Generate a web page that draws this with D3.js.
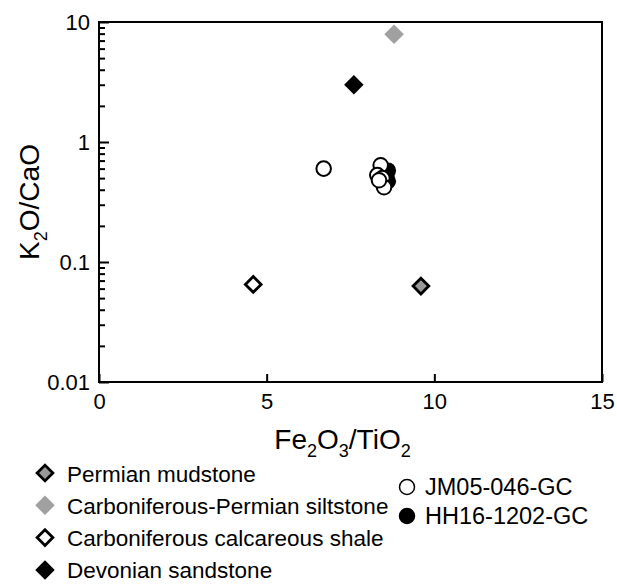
<!DOCTYPE html>
<html lang="en">
<head>
	<meta charset="UTF-8"/>
	<title>K2O/CaO vs Fe2O3/TiO2</title>
	<script src="https://d3js.org/d3.v7.min.js"></script>
	<style>
		body {
			margin: 0;
			background-color: white;
		}
		text {
			font-family: Arial, "Liberation Sans", sans-serif;
			fill: black;
		}
	</style>
</head>
<body>
<script>
	// data
	var jm05X = [6.7, 8.4, 8.3, 8.45, 8.5, 8.35];
	var jm05Y = [0.60, 0.64, 0.53, 0.50, 0.42, 0.48];
	var hh16X = [8.62, 8.62, 8.58];
	var hh16Y = [0.58, 0.47, 0.52];

	var rockNames = ["Permian mudstone", "Carboniferous-Permian siltstone",
		"Carboniferous calcareous shale", "Devonian sandstone"];
	var rockX = [9.6, 8.8, 4.6, 7.6];
	var rockY = [0.063, 7.9, 0.065, 3.0];
	var rockFill = ["#999999", "#a0a0a0", "white", "black"];
	var rockStroke = ["black", "none", "black", "none"];

	var xTicks = [0, 5, 10, 15];
	var yTicks = [0.01, 0.1, 1, 10];
	var coreNames = ["JM05-046-GC", "HH16-1202-GC"];
	var coreFill = ["white", "black"];

	var w = 617;
	var h = 585;
	// plot box (not called "top": that name is taken by window.top)
	var pLeft = 99, pTop = 22, pRight = 602, pBottom = 382;

	var svg = d3.select("body")
				.append("svg")
				.attr("width", w)
				.attr("height", h);

	var x = d3.scaleLinear().domain([0, 15]).range([pLeft, pRight]);
	var y = d3.scaleLog().domain([0.01, 10]).range([pBottom, pTop]);

	// minor ticks on log axis
	var minor = [];
	for (var d = 0.01; d < 9; d *= 10) {
		for (var k = 2; k <= 9; k++) {
			minor.push(d * k);
		}
	}

	var yMinor = d3.axisLeft(y).tickValues(minor).tickSize(-6).tickFormat("");
	var gm = svg.append("g").attr("transform", "translate(" + pLeft + ",0)").call(yMinor);
	gm.select(".domain").remove();
	gm.selectAll("line").attr("stroke", "black").attr("stroke-width", 2);

	var yMajor = d3.axisLeft(y).tickValues(yTicks).tickSize(-10).tickPadding(9)
		.tickFormat(function(d){ return d >= 1 ? d3.format("d")(d) : String(d); });
	var gy = svg.append("g").attr("transform", "translate(" + pLeft + ",0)").call(yMajor);
	gy.select(".domain").remove();
	gy.selectAll("line").attr("stroke", "black").attr("stroke-width", 2);
	gy.selectAll("text").attr("font-size", 22).attr("font-family", "Arial, 'Liberation Sans', sans-serif");

	var xAxis = d3.axisBottom(x).tickValues(xTicks).tickSize(-8).tickPadding(11);
	var gx = svg.append("g").attr("transform", "translate(0," + pBottom + ")").call(xAxis);
	gx.select(".domain").remove();
	gx.selectAll("line").attr("stroke", "black").attr("stroke-width", 2);
	gx.selectAll("text").attr("font-size", 22).attr("font-family", "Arial, 'Liberation Sans', sans-serif");

	// frame
	svg.append("rect")
		.attr("x", pLeft).attr("y", pTop)
		.attr("width", pRight - pLeft).attr("height", pBottom - pTop)
		.attr("fill", "none").attr("stroke", "black").attr("stroke-width", 2);

	// axis titles
	var xt = svg.append("text").attr("x", (pLeft + pRight) / 2 - 8).attr("y", 449)
		.attr("text-anchor", "middle").attr("font-size", 28);
	xt.append("tspan").text("Fe");
	xt.append("tspan").text("2").attr("font-size", 18).attr("dy", 8);
	xt.append("tspan").text("O").attr("dy", -8);
	xt.append("tspan").text("3").attr("font-size", 18).attr("dy", 8);
	xt.append("tspan").text("/TiO").attr("dy", -8);
	xt.append("tspan").text("2").attr("font-size", 18).attr("dy", 8);

	var yt = svg.append("text")
		.attr("transform", "translate(39," + ((pTop + pBottom) / 2) + ") rotate(-90)")
		.attr("text-anchor", "middle").attr("font-size", 28);
	yt.append("tspan").text("K");
	yt.append("tspan").text("2").attr("font-size", 18).attr("dy", 8);
	yt.append("tspan").text("O/CaO").attr("dy", -8);

	var diamond = d3.symbol().type(d3.symbolDiamond2);
	function rockSize(i) { return rockStroke[i] == "none" ? 242 : 158; }

	// rock samples
	svg.selectAll(".rock")
		.data(rockX)
		.enter()
		.append("path")
		.attr("class", "rock")
		.attr("d", function(d, i){ return diamond.size(rockSize(i))(); })
		.attr("transform", function(d, i){ return "translate(" + x(d) + "," + y(rockY[i]) + ")"; })
		.attr("fill", function(d, i){ return rockFill[i]; })
		.attr("stroke", function(d, i){ return rockStroke[i]; })
		.attr("stroke-width", 2.8);

	// cores: filled first, open circles over them
	svg.selectAll(".hh16")
		.data(hh16X)
		.enter()
		.append("circle")
		.attr("class", "hh16")
		.attr("cx", function(d){ return x(d); })
		.attr("cy", function(d, i){ return y(hh16Y[i]); })
		.attr("r", 8)
		.attr("fill", "black");

	svg.selectAll(".jm05")
		.data(jm05X)
		.enter()
		.append("circle")
		.attr("class", "jm05")
		.attr("cx", function(d){ return x(d); })
		.attr("cy", function(d, i){ return y(jm05Y[i]); })
		.attr("r", 7.3)
		.attr("fill", "white")
		.attr("stroke", "black")
		.attr("stroke-width", 2);

	// legend, rocks
	var leg = svg.selectAll(".leg")
		.data(rockNames)
		.enter()
		.append("g")
		.attr("class", "leg")
		.attr("transform", function(d, i){ return "translate(45," + (473 + i * 32.3) + ")"; });

	leg.append("path")
		.attr("d", function(d, i){ return diamond.size(rockSize(i))(); })
		.attr("fill", function(d, i){ return rockFill[i]; })
		.attr("stroke", function(d, i){ return rockStroke[i]; })
		.attr("stroke-width", 2.8);

	leg.append("text")
		.attr("x", 22).attr("y", 8.5)
		.attr("font-size", 22.5)
		.text(function(d){ return d; });

	// legend, cores
	var leg2 = svg.selectAll(".leg2")
		.data(coreNames)
		.enter()
		.append("g")
		.attr("class", "leg2")
		.attr("transform", function(d, i){ return "translate(407," + (487 + i * 29) + ")"; });

	leg2.append("circle")
		.attr("r", 7.5)
		.attr("fill", function(d, i){ return coreFill[i]; })
		.attr("stroke", "black")
		.attr("stroke-width", 1.5);

	leg2.append("text")
		.attr("x", 18).attr("y", 8)
		.attr("font-size", 23.5)
		.text(function(d){ return d; });
</script>
</body>
</html>
